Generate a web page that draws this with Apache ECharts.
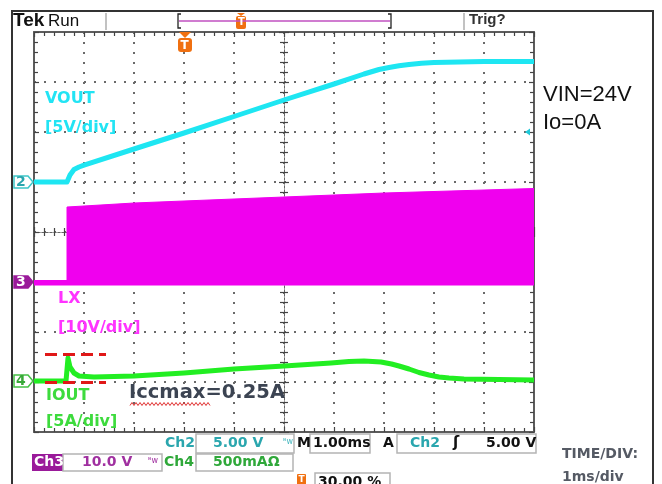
<!DOCTYPE html>
<html>
<head>
<meta charset="utf-8">
<script src="https://cdn.jsdelivr.net/npm/echarts@6/dist/echarts.min.js"></script>
<style>
html,body{margin:0;padding:0;background:#fff;}
#chart{width:662px;height:484px;}
</style>
</head>
<body>
<div id="chart"></div>
<script>
// ---- Data (time in ms, 1 ms/div; left edge of screen = 0 ms) ----
const TIME_VOUT = [0, 0.66, 0.72, 0.80, 0.90, 1.0, 2.0, 3.0, 4.0, 5.0, 6.0, 6.6, 6.9, 7.1, 7.3, 7.5, 7.75, 8.0, 9.0, 10.0];
const VOUT_V    = [0, 0,    0.7,  1.25, 1.5,  1.68, 3.3, 4.9, 6.55, 8.2, 9.8, 10.8, 11.25, 11.45, 11.62, 11.75, 11.88, 11.95, 12.05, 12.05];

const TIME_LX   = [0, 0.66, 0.66, 1.0, 2.0, 3.0, 4.0, 5.0, 6.0, 7.0, 8.0, 9.0, 10.0];
const LX_TOP_V  = [0.3, 0.3, 15.0, 15.2, 15.8, 16.2, 16.6, 17.0, 17.4, 17.8, 18.1, 18.4, 18.7];
const LX_BOTTOM_V = -0.7;

const TIME_IOUT = [0, 0.64, 0.68, 0.72, 0.80, 0.90, 1.2, 2.0, 3.0, 4.0, 5.0, 5.94, 6.3, 6.6, 6.94, 7.15, 7.3, 7.5, 7.7, 7.9, 8.1, 8.3, 8.6, 9.3, 10.0];
const IOUT_A    = [0.01, 0.01, 0.24, 0.15, 0.09, 0.06, 0.05, 0.06, 0.09, 0.13, 0.16, 0.19, 0.205, 0.21, 0.20, 0.18, 0.16, 0.13, 0.095, 0.07, 0.05, 0.04, 0.03, 0.025, 0.02];

const ICC_MARK_T = [0.22, 1.44];   // red dashed guide extent (ms)
const ICC_MARK_A = [0.28, 0];      // red dashed guide levels (A)

// channel screen scales (value at bottom / top of 8 divisions)
const CH2_RANGE = [-25, 15];   // 5 V/div, ground 3 div below top
const CH3_RANGE = [-30, 50];   // 10 V/div, ground 3 div above bottom
const CH4_RANGE = [-0.5, 3.5]; // 0.5 A/div, ground 1 div above bottom
const X_RANGE = [0, 10];
const DIV_RANGE = [0, 8];

const zip = (a, b) => a.map((v, i) => [v, b[i]]);

const chart = echarts.init(document.getElementById('chart'), null, {renderer: 'canvas'});

const F = '"DejaVu Sans", Verdana, sans-serif';
const FA = '"Liberation Sans", Arial, sans-serif';
const tickStyle = {color: '#444', width: 1.2};
const dotted = {color: '#6a6a6a', width: 2, type: [2, 8]};
const borderLine = {show: true, onZero: false, lineStyle: {color: '#5c5c5c', width: 2}};
const centerLine = {show: true, onZero: false, lineStyle: {color: '#666', width: 1, type: [2, 2]}};

function borderX(pos, inside, offset, line) {
  return {
    type: 'value', min: X_RANGE[0], max: X_RANGE[1], interval: 1, position: pos, offset: offset || 0,
    axisLine: line,
    axisTick: {show: true, inside: inside, length: 5, lineStyle: tickStyle},
    minorTick: {show: true, splitNumber: 5, length: 4, lineStyle: tickStyle},
    axisLabel: {show: false}, splitLine: {show: false}
  };
}
function borderY(pos, inside, offset, line) {
  return {
    type: 'value', min: DIV_RANGE[0], max: DIV_RANGE[1], interval: 1, position: pos, offset: offset || 0,
    axisLine: line,
    axisTick: {show: true, inside: inside, length: 5, lineStyle: tickStyle},
    minorTick: {show: true, splitNumber: 5, length: 4, lineStyle: tickStyle},
    axisLabel: {show: false}, splitLine: {show: false}
  };
}

const xAxes = [
  Object.assign(borderX('bottom', true, 0, borderLine), {splitLine: {show: true, lineStyle: dotted}}),
  borderX('top', true, 0, borderLine),
  borderX('bottom', true, -200, centerLine),
  borderX('bottom', false, -200, centerLine)
];
const yAxes = [
  {type: 'value', min: CH2_RANGE[0], max: CH2_RANGE[1], show: false},
  {type: 'value', min: CH3_RANGE[0], max: CH3_RANGE[1], show: false},
  {type: 'value', min: CH4_RANGE[0], max: CH4_RANGE[1], show: false},
  Object.assign(borderY('left', true, 0, borderLine), {splitLine: {show: true, lineStyle: dotted}}),
  borderY('right', true, 0, borderLine),
  borderY('left', true, -250, centerLine),
  borderY('left', false, -250, centerLine)
];

// ---- decorations ----
const G = [];
function txt(x, y, s, fill, font, extra) {
  G.push(Object.assign({type: 'text', x: x, y: y, z: 100,
    style: {text: s, fill: fill, font: font, verticalAlign: 'middle', align: 'left'}}, extra || {}));
}
function rect(x, y, w, h, stroke, fill, r) {
  G.push({type: 'rect', z: 90, shape: {x: x, y: y, width: w, height: h, r: r || 0},
    style: {stroke: stroke || null, fill: fill || null, lineWidth: 1.5}});
}
function poly(pts, stroke, fill, lw) {
  G.push({type: 'polygon', z: 95, shape: {points: pts},
    style: {stroke: stroke || null, fill: fill || null, lineWidth: lw || 1.5}});
}
function pline(pts, color, lw) {
  G.push({type: 'polyline', z: 95, shape: {points: pts}, style: {stroke: color, lineWidth: lw || 1.5, fill: null}});
}

// outer frame
pline([[12, 484], [12, 11], [653, 11], [653, 484]], '#333', 2);
// header
txt(13, 21, 'Tek', '#111', 'bold 19px ' + FA);
txt(48, 21, 'Run', '#111', '17px ' + FA);
pline([[106, 13], [106, 30]], '#999', 1.2);
pline([[464, 13], [464, 30]], '#999', 1.2);
pline([[179, 21], [390, 21]], '#c050c0', 1.5);
pline([[181, 14], [178, 14], [178, 28], [181, 28]], '#222', 1.3);
pline([[388, 14], [391, 14], [391, 28], [388, 28]], '#222', 1.3);
poly([[237, 13], [245, 13], [241, 16]], null, '#f07010');
rect(236, 16, 10, 13, null, '#f07010', 2);
txt(238, 22.5, 'T', '#fff', 'bold 10px ' + F);
txt(469, 20, 'Trig?', '#333', 'bold 15px ' + FA);

// trigger position marker
poly([[179, 32], [191, 32], [185, 38]], null, '#f07010');
rect(178, 38, 14, 14, null, '#f07010', 3);
txt(180.5, 45.5, 'T', '#fff', 'bold 12px ' + F);

// channel ground markers
poly([[14, 176], [28, 176], [33, 182], [28, 188], [14, 188]], '#3cc6c8', '#fff');
txt(16, 182.5, '2', '#2aa6ae', 'bold 14px ' + F);
poly([[14, 276], [28, 276], [33, 282], [28, 288], [14, 288]], '#9a1a9a', '#9a1a9a');
txt(16, 282.5, '3', '#fff', 'bold 14px ' + F);
poly([[14, 375], [28, 375], [33, 381], [28, 387], [14, 387]], '#44c044', '#fff');
txt(16, 381.5, '4', '#38a838', 'bold 14px ' + F);
// trigger level marker (right)
poly([[530, 128.5], [525, 132], [530, 135.5]], null, '#1ec8d8');

// channel labels
txt(45, 99, 'VOUT', '#22e4f4', 'bold 16px ' + F);
txt(45, 128, '[5V/div]', '#22e4f4', 'bold 16px ' + F);
txt(58, 299, 'LX', '#ff33ff', 'bold 16px ' + F);
txt(58, 328, '[10V/div]', '#ff33ff', 'bold 16px ' + F);
txt(46, 396, 'IOUT', '#3ddb3d', 'bold 16px ' + F);
txt(46, 422, '[5A/div]', '#3ddb3d', 'bold 16px ' + F);
txt(129, 393, 'Iccmax=0.25A', '#3c4452', 'bold 19.5px ' + F);
(function () {
  const pts = [];
  for (let x = 130, k = 0; x <= 210; x += 2, k++) pts.push([x, k % 2 ? 402.5 : 405.5]);
  pline(pts, '#e03030', 1);
})();
txt(543, 95, 'VIN=24V', '#111', '22px ' + FA);
txt(543, 123, 'Io=0A', '#111', '22px ' + FA);
txt(562, 454, 'TIME/DIV:', '#555a64', 'bold 14px ' + F);
txt(562, 477, '1ms/div', '#555a64', 'bold 14px ' + F);

// status boxes
const BOX = '#b4b4b4';
rect(196, 434, 98, 19, BOX, '#fff');
rect(310, 434, 60, 19, BOX, '#fff');
rect(397, 434, 139, 19, BOX, '#fff');
rect(32, 454, 31, 17, null, '#9a1a9a');
rect(63, 454, 99, 17, BOX, '#fff');
rect(196, 454, 97, 17, BOX, '#fff');
rect(315, 473, 75, 16, BOX, '#fff');
rect(297, 474, 9, 12, null, '#f07010', 1);
txt(298.5, 480, 'T', '#fff', 'bold 9px ' + F);

txt(165, 443.5, 'Ch2', '#2aa6ae', 'bold 14px ' + F);
txt(213, 443.5, '5.00 V', '#2aa6ae', 'bold 14px ' + F);
txt(283, 442, 'ᴮw', '#49b8c0', '8px ' + F);
txt(297, 443.5, 'M', '#111', 'bold 14px ' + F);
txt(313, 443.5, '1.00ms', '#111', 'bold 14px ' + F);
txt(383, 443.5, 'A', '#111', 'bold 14px ' + F);
txt(410, 443.5, 'Ch2', '#2aa6ae', 'bold 14px ' + F);
txt(453, 443.5, 'ʃ', '#111', 'bold 15px ' + F);
txt(486, 443.5, '5.00 V', '#111', 'bold 14px ' + F);
txt(34, 462.5, 'Ch3', '#fff', 'bold 14px ' + F);
txt(82, 462.5, '10.0 V', '#a030a0', 'bold 14px ' + F);
txt(148, 461, 'ᴮw', '#a030a0', '8px ' + F);
txt(164, 462.5, 'Ch4', '#2fa83a', 'bold 14px ' + F);
txt(213, 462.5, '500mAΩ', '#2fa83a', 'bold 14px ' + F);
txt(318, 482, '30.00 %', '#111', 'bold 14px ' + F);

const option = {
  animation: false,
  backgroundColor: '#fff',
  grid: {left: 34, top: 32, width: 500, height: 400, show: false},
  xAxis: xAxes,
  yAxis: yAxes,
  series: [
    {
      name: 'LX', type: 'line', xAxisIndex: 0, yAxisIndex: 1, data: zip(TIME_LX, LX_TOP_V),
      symbol: 'none', lineStyle: {color: '#f000ee', width: 1},
      areaStyle: {color: '#f000ee', opacity: 1, origin: LX_BOTTOM_V}, z: 3
    },
    {
      name: 'VOUT', type: 'line', xAxisIndex: 0, yAxisIndex: 0, data: zip(TIME_VOUT, VOUT_V),
      symbol: 'none', lineStyle: {color: '#1ee6f2', width: 5, join: 'round'}, z: 4
    },
    {
      name: 'IOUT', type: 'line', xAxisIndex: 0, yAxisIndex: 2, data: zip(TIME_IOUT, IOUT_A),
      symbol: 'none', lineStyle: {color: '#22ee22', width: 5, join: 'round'}, z: 5,
      markLine: {
        silent: true, symbol: 'none', label: {show: false}, z: 10,
        lineStyle: {color: '#e01818', width: 3, type: [12, 6]},
        data: ICC_MARK_A.map(a => [{coord: [ICC_MARK_T[0], a]}, {coord: [ICC_MARK_T[1], a]}])
      }
    }
  ],
  graphic: G
};
chart.setOption(option);
</script>
</body>
</html>
